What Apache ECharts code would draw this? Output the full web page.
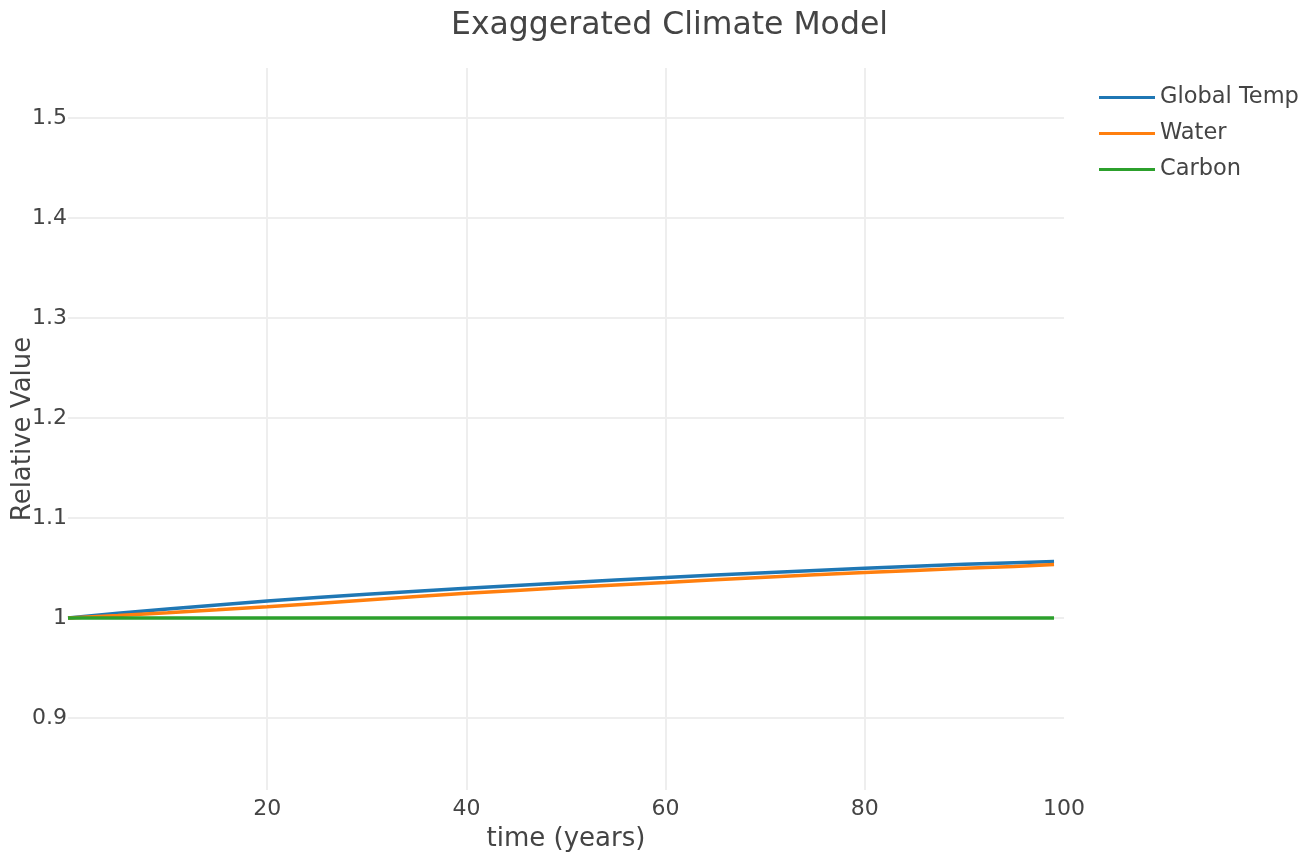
<!DOCTYPE html>
<html>
<head>
<meta charset="utf-8">
<title>Exaggerated Climate Model</title>
<script src="https://cdn.jsdelivr.net/npm/echarts@6/dist/echarts.min.js"></script>
<style>
  html, body { margin: 0; padding: 0; background: #fff; }
  #chart { width: 1316px; height: 858px; }
</style>
</head>
<body>
<div id="chart"></div>
<script>
// Model output sampled every five years
const years = [0, 5, 10, 15, 20, 25, 30, 35, 40, 45, 50, 55, 60, 65, 70, 75, 80, 85, 90, 95, 99];
const globalTemp = [1.0000, 1.0048, 1.0090, 1.0130, 1.0170, 1.0205, 1.0237, 1.0268, 1.0297, 1.0326,
                    1.0353, 1.0380, 1.0405, 1.0430, 1.0453, 1.0476, 1.0497, 1.0518, 1.0537, 1.0553, 1.0565];
const water = [1.0000, 1.0025, 1.0053, 1.0082, 1.0112, 1.0146, 1.0180, 1.0214, 1.0247, 1.0276,
               1.0304, 1.0330, 1.0355, 1.0383, 1.0408, 1.0432, 1.0455, 1.0476, 1.0497, 1.0516, 1.0535];
const carbon = [1.0, 1.0, 1.0, 1.0, 1.0, 1.0, 1.0, 1.0, 1.0, 1.0,
                1.0, 1.0, 1.0, 1.0, 1.0, 1.0, 1.0, 1.0, 1.0, 1.0, 1.0];

const seriesNames = ['Global Temp', 'Water', 'Carbon'];
const seriesColors = ['#1f77b4', '#ff7f0e', '#2ca02c'];
const xTickLabels = [20, 40, 60, 80, 100];
const xGridValues = [20, 40, 60, 80];
const yTicks = [0.9, 1.0, 1.1, 1.2, 1.3, 1.4, 1.5];

const FONT = '"DejaVu Sans", Verdana, sans-serif';
const TEXT = '#444';

function pairs(xs, ys) { return xs.map((x, i) => [x, ys[i]]); }

const chart = echarts.init(document.getElementById('chart'), null, { renderer: 'canvas' });

chart.setOption({
  backgroundColor: '#fff',
  animation: false,
  textStyle: { fontFamily: FONT, color: TEXT },
  title: {
    text: 'Exaggerated Climate Model',
    left: 446,
    top: 5,
    textStyle: { fontFamily: FONT, fontSize: 31.5, fontWeight: 'normal', color: TEXT }
  },
  legend: {
    data: seriesNames,
    orient: 'vertical',
    left: 1094,
    top: 80,
    icon: 'rect',
    itemWidth: 56,
    itemHeight: 3,
    itemGap: 11,
    textStyle: { fontFamily: FONT, fontSize: 22.5, color: TEXT, lineHeight: 25 }
  },
  grid: { left: 68, right: 252, top: 68, bottom: 68, containLabel: false, outerBoundsMode: 'none' },
  xAxis: {
    type: 'value',
    min: 0,
    max: 100,
    name: 'time (years)',
    nameLocation: 'middle',
    nameGap: 36,
    nameMoveOverlap: false,
    nameTextStyle: { fontFamily: FONT, fontSize: 26, color: TEXT },
    axisLine: { show: false },
    axisTick: { show: false, customValues: xGridValues },
    axisLabel: { customValues: xTickLabels, fontFamily: FONT, fontSize: 22, color: TEXT, margin: 8 },
    splitLine: { show: true, lineStyle: { color: '#eeeeee', width: 2 } }
  },
  yAxis: {
    type: 'value',
    min: 0.828,
    max: 1.55,
    name: 'Relative Value',
    nameLocation: 'middle',
    nameGap: 32,
    nameMoveOverlap: false,
    nameTextStyle: { fontFamily: FONT, fontSize: 26, color: TEXT },
    axisLine: { show: false },
    axisTick: { show: false, customValues: yTicks },
    axisLabel: {
      customValues: yTicks,
      fontFamily: FONT, fontSize: 22, color: TEXT, margin: 1,
      formatter: v => String(Math.round(v * 10) / 10)
    },
    splitLine: { show: true, lineStyle: { color: '#eeeeee', width: 2 } }
  },
  series: [
    { name: seriesNames[0], type: 'line', data: pairs(years, globalTemp) },
    { name: seriesNames[1], type: 'line', data: pairs(years, water) },
    { name: seriesNames[2], type: 'line', data: pairs(years, carbon) }
  ].map((s, i) => Object.assign(s, {
    showSymbol: false,
    symbol: 'none',
    color: seriesColors[i],
    lineStyle: { color: seriesColors[i], width: 3.5 },
    z: 2 + i
  }))
});
</script>
</body>
</html>
